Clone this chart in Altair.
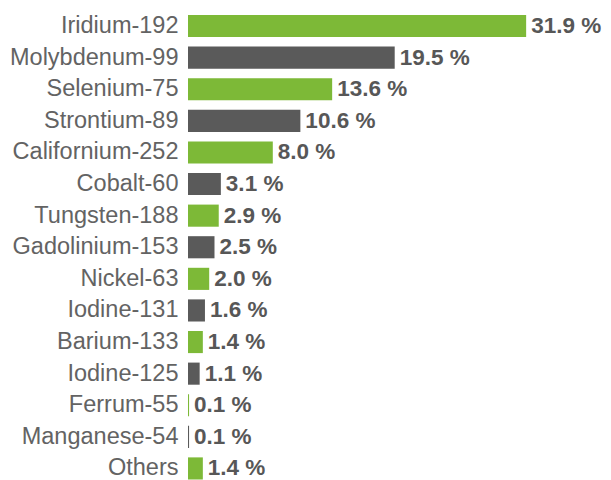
import altair as alt
import pandas as pd

isotopes = ["Iridium-192", "Molybdenum-99", "Selenium-75", "Strontium-89",
            "Californium-252", "Cobalt-60", "Tungsten-188", "Gadolinium-153",
            "Nickel-63", "Iodine-131", "Barium-133", "Iodine-125",
            "Ferrum-55", "Manganese-54", "Others"]
shares = [31.9, 19.5, 13.6, 10.6, 8.0, 3.1, 2.9, 2.5, 2.0, 1.6, 1.4, 1.1, 0.1, 0.1, 1.4]
groups = ["g", "d", "g", "d", "g", "d", "g", "d", "g", "d", "g", "d", "g", "d", "g"]
labels = [f"{v:.1f} %" for v in shares]

df = pd.DataFrame({"isotope": isotopes, "share": shares, "group": groups, "label": labels})

y = alt.Y("isotope:N", sort=isotopes, title=None,
          scale=alt.Scale(paddingInner=0.3, paddingOuter=0),
          axis=alt.Axis(ticks=False, domain=False, labelFontSize=23.5,
                        labelFont="Liberation Sans", labelColor="#636363",
                        labelPadding=10, labelLimit=300))
x = alt.X("share:Q", title=None, scale=alt.Scale(domain=[0, 39.15], nice=False), axis=None)

bars = alt.Chart(df).mark_bar().encode(
    x=x, y=y,
    color=alt.Color("group:N", scale=alt.Scale(domain=["g", "d"], range=["#7db937", "#5a5a5a"]),
                    legend=None),
)

text = alt.Chart(df).mark_text(align="left", baseline="middle", dx=5, font="Liberation Sans",
                               fontSize=22.5, fontWeight="bold", color="#575757").encode(
    x=x, y=y, text="label:N")

chart = (bars + text).properties(
    width=415, height=464.5,
    autosize=alt.AutoSizeParams(type="none"),
    padding={"left": 180, "top": 7, "right": 0, "bottom": 0},
    background="white",
).configure_view(stroke=None)

chart.save("out.html", embed_options={"renderer": "svg", "actions": False})
